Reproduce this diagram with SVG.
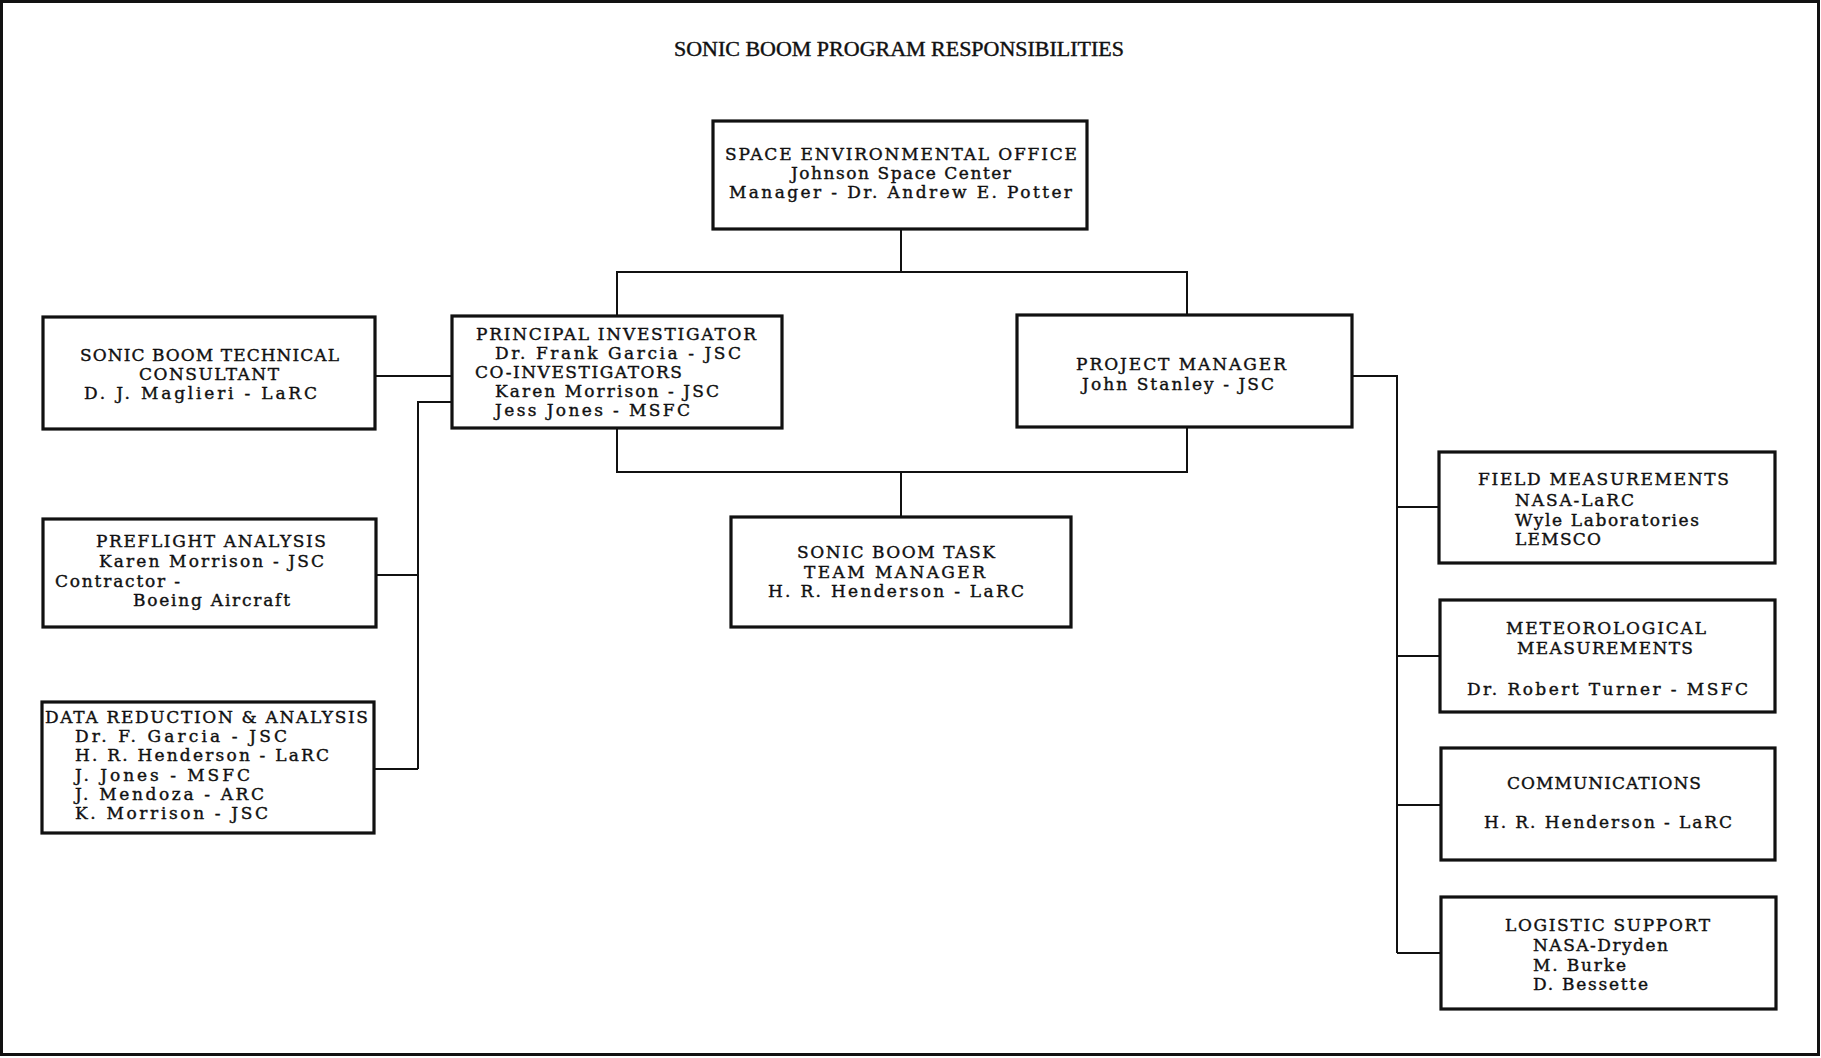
<svg xmlns="http://www.w3.org/2000/svg" width="1821" height="1058" viewBox="0 0 1821 1058">
<style>
.frame{fill:none;stroke:#111;stroke-width:3}
.box{fill:#fff;stroke:#111;stroke-width:3.2}
.conn{fill:none;stroke:#111;stroke-width:2}
text{font-family:"DejaVu Serif","Liberation Serif",serif;font-size:17px;fill:#111;stroke:#111;stroke-width:0.4}
.title{font-family:"Liberation Serif","DejaVu Serif",serif;font-size:20px;stroke-width:0.4}
</style>
<rect width="1821" height="1058" fill="#fff"/>
<rect class="frame" x="1.5" y="1.5" width="1817" height="1053"/>
<text class="title" x="674" y="56" textLength="450" lengthAdjust="spacingAndGlyphs">SONIC BOOM PROGRAM RESPONSIBILITIES</text>

<g id="connectors">
<path class="conn" d="M901,229 V272 M617,316 V272 H1187 V315"/>
<path class="conn" d="M617,428 V472 H1187 V427 M901,472 V517"/>
<path class="conn" d="M375,376 H452"/>
<path class="conn" d="M452,402 H418 V769 M376,575 H418 M374,769 H418"/>
<path class="conn" d="M1352,376 H1397 V953 M1397,507 H1439 M1397,656 H1440 M1397,805 H1441 M1397,953 H1441"/>
</g>

<g id="space-environmental-office">
<rect class="box" x="713" y="121" width="374" height="108"/>
<text x="725" y="160" textLength="352">SPACE ENVIRONMENTAL OFFICE</text>
<text x="791" y="179" textLength="220">Johnson Space Center</text>
<text x="729" y="198" textLength="343">Manager - Dr. Andrew E. Potter</text>
</g>

<g id="technical-consultant">
<rect class="box" x="43" y="317" width="332" height="112"/>
<text x="80" y="361" textLength="259">SONIC BOOM TECHNICAL</text>
<text x="139" y="380" textLength="140">CONSULTANT</text>
<text x="84" y="399" textLength="233">D. J. Maglieri - LaRC</text>
</g>

<g id="principal-investigator">
<rect class="box" x="452" y="316" width="330" height="112"/>
<text x="476" y="340" textLength="280">PRINCIPAL INVESTIGATOR</text>
<text x="495" y="359" textLength="246">Dr. Frank Garcia - JSC</text>
<text x="475" y="378" textLength="207">CO-INVESTIGATORS</text>
<text x="495" y="397" textLength="224">Karen Morrison - JSC</text>
<text x="495" y="416" textLength="195">Jess Jones - MSFC</text>
</g>

<g id="project-manager">
<rect class="box" x="1017" y="315" width="335" height="112"/>
<text x="1076" y="370" textLength="210">PROJECT MANAGER</text>
<text x="1082" y="390" textLength="192">John Stanley - JSC</text>
</g>

<g id="task-team-manager">
<rect class="box" x="731" y="517" width="340" height="110"/>
<text x="797" y="558" textLength="198">SONIC BOOM TASK</text>
<text x="804" y="578" textLength="181">TEAM MANAGER</text>
<text x="768" y="597" textLength="256">H. R. Henderson - LaRC</text>
</g>

<g id="preflight-analysis">
<rect class="box" x="43" y="519" width="333" height="108"/>
<text x="96" y="547" textLength="230">PREFLIGHT ANALYSIS</text>
<text x="99" y="567" textLength="225">Karen Morrison - JSC</text>
<text x="55" y="587" textLength="125">Contractor -</text>
<text x="133" y="606" textLength="157">Boeing Aircraft</text>
</g>

<g id="data-reduction">
<rect class="box" x="42" y="702" width="332" height="131"/>
<text x="45" y="723" textLength="323">DATA REDUCTION &amp; ANALYSIS</text>
<text x="75" y="742" textLength="212">Dr. F. Garcia - JSC</text>
<text x="75" y="761" textLength="254">H. R. Henderson - LaRC</text>
<text x="75" y="781" textLength="175">J. Jones - MSFC</text>
<text x="75" y="800" textLength="189">J. Mendoza - ARC</text>
<text x="75" y="819" textLength="193">K. Morrison - JSC</text>
</g>

<g id="field-measurements">
<rect class="box" x="1439" y="452" width="336" height="111"/>
<text x="1478" y="485" textLength="251">FIELD MEASUREMENTS</text>
<text x="1515" y="506" textLength="119">NASA-LaRC</text>
<text x="1515" y="526" textLength="184">Wyle Laboratories</text>
<text x="1515" y="545" textLength="86">LEMSCO</text>
</g>

<g id="meteorological-measurements">
<rect class="box" x="1440" y="600" width="335" height="112"/>
<text x="1506" y="634" textLength="200">METEOROLOGICAL</text>
<text x="1517" y="654" textLength="176">MEASUREMENTS</text>
<text x="1467" y="695" textLength="281">Dr. Robert Turner - MSFC</text>
</g>

<g id="communications">
<rect class="box" x="1441" y="748" width="334" height="112"/>
<text x="1507" y="789" textLength="194">COMMUNICATIONS</text>
<text x="1484" y="828" textLength="248">H. R. Henderson - LaRC</text>
</g>

<g id="logistic-support">
<rect class="box" x="1441" y="897" width="335" height="112"/>
<text x="1505" y="931" textLength="205">LOGISTIC SUPPORT</text>
<text x="1533" y="951" textLength="135">NASA-Dryden</text>
<text x="1533" y="971" textLength="93">M. Burke</text>
<text x="1533" y="990" textLength="115">D. Bessette</text>
</g>
</svg>
